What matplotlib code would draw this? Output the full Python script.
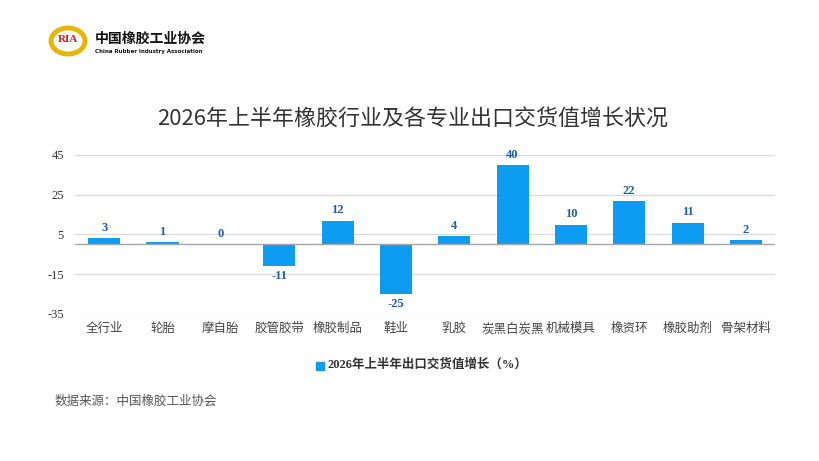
import matplotlib.pyplot as plt
from matplotlib.patches import Ellipse, Rectangle

categories = ['全行业', '轮胎', '摩自胎', '胶管胶带', '橡胶制品', '鞋业',
              '乳胶', '炭黑白炭黑', '机械模具', '橡资环', '橡胶助剂', '骨架材料']
growth = [3, 1, 0, -11, 12, -25, 4, 40, 10, 22, 11, 2]
yticks = [-35, -15, 5, 25, 45]
title = '2026年上半年橡胶行业及各专业出口交货值增长状况'
legend_label = '2026年上半年出口交货值增长（%）'
source = '数据来源：中国橡胶工业协会'

cjk = ['Noto Sans CJK SC', 'DejaVu Sans']
serif = ['Liberation Serif', 'Noto Sans CJK SC']
bar_color = '#0d9cf2'
label_color = '#1b5fa6'

fig = plt.figure(figsize=(8.2, 4.61), dpi=100)
fig.patch.set_facecolor('white')

ax = fig.add_axes([0.0915, 0.3189, 0.8537, 0.3449])
x = range(len(categories))
ax.bar(x, growth, width=0.55, color=bar_color, zorder=3)
ax.set_xlim(-0.5, len(categories) - 0.5)
ax.set_ylim(-35, 45)
ax.set_yticks(yticks)
ax.set_yticklabels([str(t) for t in yticks], family=serif, fontsize=9, color='#333333')
ax.set_xticks(list(x))
ax.set_xticklabels(categories, family=cjk, fontsize=9, color='#444444')
ax.tick_params(axis='both', length=0)
ax.tick_params(axis='x', pad=6)
ax.tick_params(axis='y', pad=8)
ax.grid(axis='y', color='#d9d9d9', linewidth=0.9, zorder=0)
for s in ax.spines.values():
    s.set_visible(False)
ax.axhline(0, color='#a6a6a6', linewidth=1.0, zorder=4)

for xi, v in zip(x, growth):
    if v >= 0:
        ax.annotate(str(v), (xi, v), xytext=(0, 3), textcoords='offset points',
                    ha='center', va='bottom', family=serif, fontsize=9,
                    fontweight='bold', color=label_color)
    else:
        ax.annotate(str(v), (xi, v), xytext=(0, -3), textcoords='offset points',
                    ha='center', va='top', family=serif, fontsize=9,
                    fontweight='bold', color=label_color)

fig.text(0.503, 0.74, title, family=cjk, fontsize=15.8, color='#333333',
         ha='center', va='center')

# legend
fig.patches.append(Rectangle((316 / 820, 1 - 370 / 461), 8 / 820, 8 / 461,
                             transform=fig.transFigure, color=bar_color))
fig.text(328 / 820, 1 - 365 / 461, legend_label, family=serif, fontsize=9,
         fontweight='bold', color='#333333', ha='left', va='center')

fig.text(55 / 820, 1 - 401 / 461, source, family=cjk, fontsize=9,
         color='#555555', ha='left', va='center')

# logo
fig.patches.append(Ellipse((68 / 820, 1 - 41 / 461), 34 / 820, 26 / 461,
                           transform=fig.transFigure, fill=False,
                           edgecolor='#e8b400', linewidth=3.5))
fig.text(68 / 820, 1 - 40 / 461, 'RIA', family=serif, fontsize=8,
         fontweight='bold', color='#d42020', ha='center', va='center')
fig.text(95 / 820, 1 - 39 / 461, '中国橡胶工业协会', family=cjk, fontsize=10,
         fontweight='bold', color='#111111', ha='left', va='center')
fig.text(95 / 820, 1 - 51 / 461, 'China Rubber Industry Association',
         family=['DejaVu Sans'], fontsize=4.0, fontweight='bold',
         color='#111111', ha='left', va='center')

fig.savefig('out.png', dpi=100)
